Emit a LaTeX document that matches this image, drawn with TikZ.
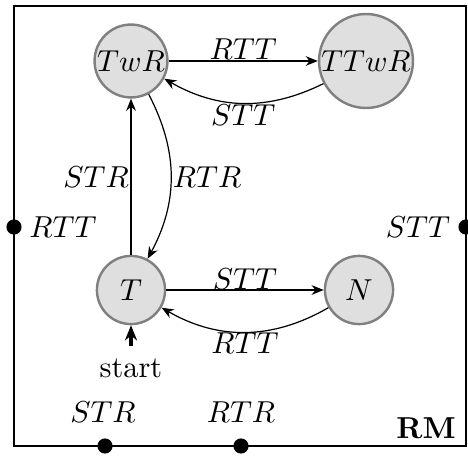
\documentclass[tikz,border=0pt]{standalone}
\usetikzlibrary{arrows.meta}
\begin{document}
\begin{tikzpicture}[x=0.33pt,y=-0.33pt,
  st/.style={circle,draw=gray,fill=gray!25,thick,inner sep=0.3pt,minimum size=22.5pt},
  edge/.style={-{Stealth[length=4pt,width=3.2pt]}},
  lbl/.style={font=\normalsize},
  port/.style={circle,fill=black,inner sep=0pt,minimum size=5pt}]
\useasboundingbox (0,0) rectangle (468,455);
\draw[line width=0.95pt] (14,6) rectangle (466,446);
\node[st] (TwR) at (131,61) {$TwR$};
\node[st] (TTwR) at (366,61) {$TTwR$};
\node[st] (T) at (131,290) {$T$};
\node[st] (N) at (359,290) {$N$};
\draw[edge] (TwR) -- node[above,lbl,inner sep=0.3pt] {$RTT$} (TTwR);
\draw[edge] (TTwR) to[bend left=28] node[below,lbl,inner sep=0.3pt] {$STT$} (TwR);
\draw[edge] (T) -- node[left,lbl,inner sep=0.5pt] {$STR$} (TwR);
\draw[edge] (TwR) to[bend left=28] node[right,lbl,inner sep=0.5pt] {$RTR$} (T);
\draw[edge] (T) -- node[above,lbl,inner sep=0pt] {$STT$} (N);
\draw[edge] (N) to[bend left=30] node[below,lbl,inner sep=0pt] {$RTT$} (T);
\node[lbl] (start) at (131,368) {start};
\draw[very thick,-{Stealth[length=5pt,width=4pt]}] (start.north) ++(0,-2) coordinate (s0) (s0) -- (T);
\node[port] (pL) at (14,227) {};
\node[port] (pR) at (466,227) {};
\node[port] (pB1) at (105,446) {};
\node[port] (pB2) at (241,446) {};
\node[lbl] (lL) at (63,227) {$RTT$};
\node[lbl] (lR) at (418,227) {$STT$};
\node[lbl] (lB1) at (103,412) {$STR$};
\node[lbl] (lB2) at (241,412) {$RTR$};
\node[lbl] (rm) at (426,428) {\textbf{RM}};
\end{tikzpicture}
\end{document}
